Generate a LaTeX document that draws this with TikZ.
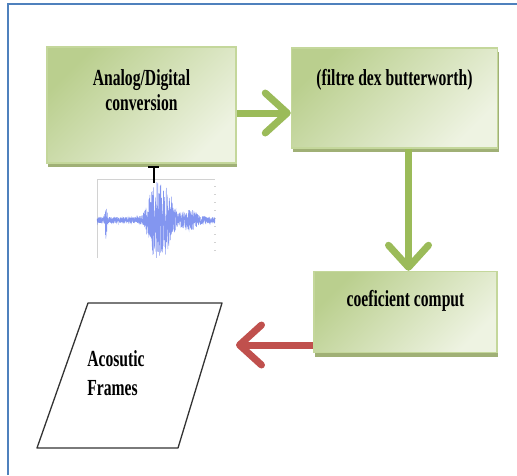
\documentclass[tikz,border=0pt]{standalone}
\usepackage{fontspec}
\newfontfamily\boxfont[FakeStretch=0.68]{Liberation Serif}
\usetikzlibrary{arrows.meta, shadows, calc}
\definecolor{frameblue}{RGB}{79,129,189}
\definecolor{boxdark}{RGB}{186,207,142}
\definecolor{boxlight}{RGB}{238,243,226}
\definecolor{boxedge}{RGB}{196,215,155}
\definecolor{boxshadow}{RGB}{160,176,118}
\definecolor{arrowgreen}{RGB}{155,187,89}
\definecolor{arrowred}{RGB}{192,80,77}
\definecolor{wavecol}{RGB}{90,115,235}
\tikzset{
  flowbox/.style   = {rectangle, draw=boxedge, line width=1.5pt, top color=boxdark, bottom color=boxlight, shading angle=45,
                      inner sep=0pt, drop shadow={shadow xshift=1pt, shadow yshift=-4pt, fill=boxshadow, opacity=1},
                      font=\boxfont\bfseries\fontsize{23}{25}\selectfont, align=center},
  flowarrow/.style = {line width=7pt, arrowgreen, -{Straight Barb[length=22pt, width=40pt, round]}},
  backarrow/.style = {flowarrow, arrowred},
  datashape/.style = {draw=black!80, line width=1.3pt, line join=round},
  datatext/.style  = {font=\boxfont\bfseries\fontsize{23}{29}\selectfont, align=left},
  axisline/.style  = {gray!35, line width=0.5pt},
}

\begin{document}
\begin{tikzpicture}[x=1pt, y=-1pt]
  \useasboundingbox (0,0) rectangle (517,475);
  \draw[frameblue, line width=2pt] (7.5,475) -- (7.5,4) -- (517,4);

  % blocks
  \node[flowbox, minimum width=189pt, minimum height=116pt, text height=63pt, text depth=53pt]
    (adc) at (141.5,105) {Analog/Digital\\conversion};
  \node[flowbox, minimum width=206pt, minimum height=100pt, text height=37pt, text depth=63pt]
    (filt) at (394.5,98) {(filtre dex butterworth)};
  \node[flowbox, minimum width=183pt, minimum height=81pt, text height=35pt, text depth=46pt]
    (coef) at (405.5,312) {coeficient comput};

  % data block
  \coordinate (fr-sw) at (37,448);
  \coordinate (fr-nw) at (88,303);
  \coordinate (fr-ne) at (222,303);
  \coordinate (fr-se) at (178,448);
  \draw[datashape] (fr-sw) -- (fr-nw) -- (fr-ne) -- (fr-se) -- cycle;
  \node[datatext] (framestext) at (116,373) {Acosutic\\Frames};
  \coordinate (redtip) at (236,345);

  % arrows
  \draw[flowarrow] ([yshift=-8pt]adc.east) -- ([yshift=-8pt]adc.east -| filt.west);
  \draw[flowarrow] ([xshift=14pt]filt.south) -- ([xshift=14pt]filt.south |- coef.north);
  \draw[backarrow] ([yshift=-33pt]coef.west) -- (redtip);

  % signal
  \draw[axisline] (97,258) -- (97,179) -- (215,179);
  \foreach \ty in {186,194,...,256}
    \draw[axisline] (214,\ty) -- (216,\ty);
  \pgfmathsetseed{7}
  \draw[wavecol, line width=0.45pt, opacity=0.75]
    plot[domain=0:118, samples=1000]
    ({97+\x}, {220 + rand*(3 + 19*exp(-((\x-9)/1.1)^2) + 34*exp(-((\x-58)/8)^2) + 28*exp(-((\x-70)/7)^2) + 8*exp(-((\x-92)/10)^2))});
  \draw[black, line width=1.6pt] (148,167) -- (159,167);
  \draw[black, line width=1.6pt] (154,167) -- (154,183);
\end{tikzpicture}
\end{document}
